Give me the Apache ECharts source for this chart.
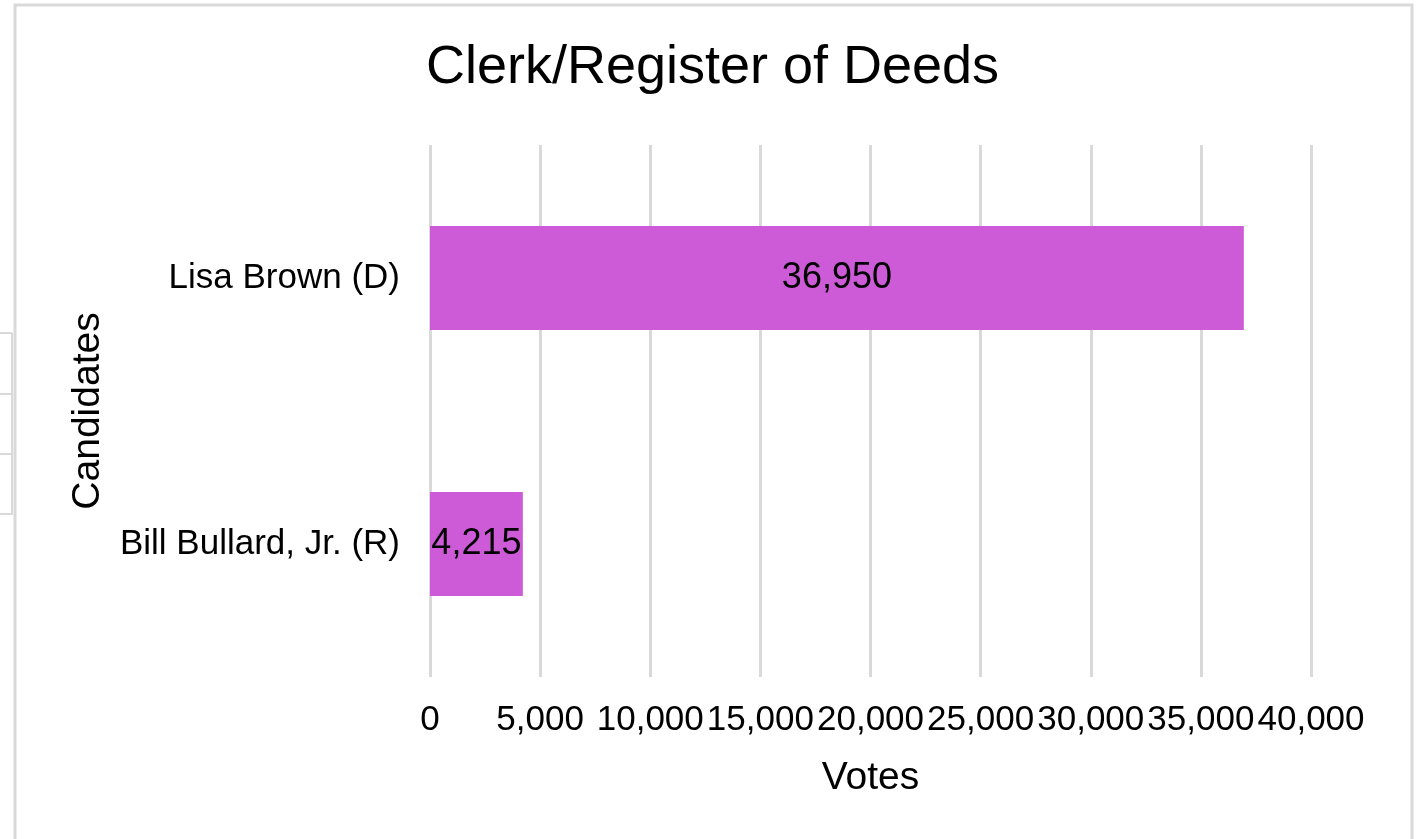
<!DOCTYPE html>
<html>
<head>
<meta charset="utf-8">
<script src="https://cdn.jsdelivr.net/npm/echarts@6/dist/echarts.min.js"></script>
<style>
html,body{margin:0;padding:0;background:#fff;}
#c{width:1425px;height:839px;}
</style>
</head>
<body>
<div id="c"></div>
<script>
const titleText = 'Clerk/Register of Deeds';
const categories = ['Lisa Brown (D)', 'Bill Bullard, Jr. (R)'];
const votes = [36950, 4215];
const xTicks = [0, 5000, 10000, 15000, 20000, 25000, 30000, 35000, 40000];
const xAxisName = 'Votes';
const yAxisName = 'Candidates';

const font = '"Liberation Sans", Arial, sans-serif';
const fmt = v => v.toLocaleString('en-US');

const chart = echarts.init(document.getElementById('c'), null, {renderer: 'canvas'});
chart.setOption({
  backgroundColor: '#ffffff',
  animation: false,
  title: {
    text: titleText,
    left: 'center',
    top: 36,
    textStyle: {fontFamily: font, fontSize: 54, fontWeight: 'normal', color: '#000'}
  },
  grid: {left: 430, right: 114, top: 145, bottom: 162, containLabel: false},
  xAxis: {
    type: 'value',
    min: xTicks[0],
    max: xTicks[xTicks.length - 1],
    interval: xTicks[1] - xTicks[0],
    name: xAxisName,
    nameLocation: 'middle',
    nameGap: 82,
    nameTextStyle: {fontFamily: font, fontSize: 39, color: '#000'},
    axisLine: {show: false},
    axisTick: {show: false},
    axisLabel: {
      fontFamily: font, fontSize: 35, color: '#000', margin: 26,
      formatter: v => fmt(v)
    },
    splitLine: {show: true, lineStyle: {color: '#d9d9d9', width: 3}}
  },
  yAxis: {
    type: 'category',
    data: categories,
    inverse: true,
    name: yAxisName,
    nameLocation: 'middle',
    nameGap: 322,
    nameRotate: 90,
    nameTextStyle: {fontFamily: font, fontSize: 39, color: '#000'},
    axisLine: {show: false},
    axisTick: {show: false},
    axisLabel: {fontFamily: font, fontSize: 35, color: '#000', margin: 30},
    splitLine: {show: false}
  },
  series: [{
    type: 'bar',
    data: votes,
    barWidth: 104,
    itemStyle: {color: '#cd5bd8'},
    label: {
      show: true,
      position: 'inside',
      fontFamily: font,
      fontSize: 36,
      color: '#000',
      formatter: p => fmt(p.value)
    }
  }],
  graphic: [
    {type: 'rect', shape: {x: 15, y: 5, width: 1397, height: 900},
     style: {fill: null, stroke: '#d9d9d9', lineWidth: 3}, z: 100},
    {type: 'line', shape: {x1: 12, y1: 333, x2: 12, y2: 515}, style: {stroke: '#d9d9d9', lineWidth: 2}},
    {type: 'line', shape: {x1: 0, y1: 333, x2: 12, y2: 333}, style: {stroke: '#d9d9d9', lineWidth: 2}},
    {type: 'line', shape: {x1: 0, y1: 394, x2: 12, y2: 394}, style: {stroke: '#d9d9d9', lineWidth: 2}},
    {type: 'line', shape: {x1: 0, y1: 454, x2: 12, y2: 454}, style: {stroke: '#d9d9d9', lineWidth: 2}},
    {type: 'line', shape: {x1: 0, y1: 514, x2: 12, y2: 514}, style: {stroke: '#d9d9d9', lineWidth: 2}}
  ]
});
</script>
</body>
</html>
